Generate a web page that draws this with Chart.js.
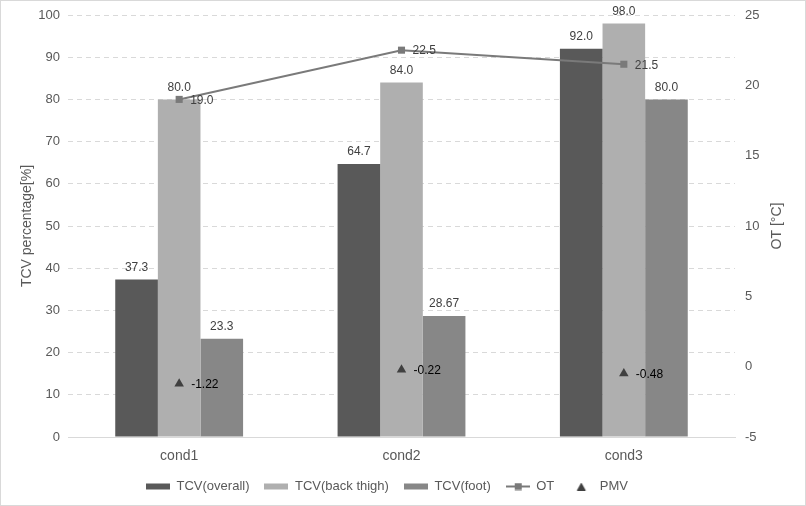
<!DOCTYPE html>
<html>
<head>
<meta charset="utf-8">
<script src="https://cdn.jsdelivr.net/npm/chart.js@4.4.1/dist/chart.umd.min.js"></script>
<style>
  body { margin: 0; background: #fff; }
  #wrap { width: 806px; height: 506px; box-sizing: border-box; border: 1px solid #d9d9d9; }
  canvas { display: block; }
</style>
</head>
<body>
<div id="wrap"><canvas id="chart" width="804" height="504"></canvas></div>
<script>
var categories = ["cond1", "cond2", "cond3"];
var tcvOverall = [37.3, 64.7, 92.0];
var tcvBackThigh = [80.0, 84.0, 98.0];
var tcvFoot = [23.3, 28.67, 80.0];
var otValues = [19.0, 22.5, 21.5];
var pmvValues = [-1.22, -0.22, -0.48];

var FONT = "'Liberation Sans', Arial, sans-serif";

function fmtBar(v) {
    var t = Math.round(v * 100);
    return (t % 10 === 0) ? v.toFixed(1) : v.toFixed(2);
}

function iconCanvas(kind, color) {
    var c = document.createElement('canvas');
    c.width = 24; c.height = 8;
    var g = c.getContext('2d');
    g.fillStyle = color; g.strokeStyle = color;
    if (kind === 'bar') {
        g.fillRect(0, 1, 24, 6);
    } else if (kind === 'line') {
        g.lineWidth = 2;
        g.beginPath(); g.moveTo(0, 4); g.lineTo(24, 4); g.stroke();
        g.fillRect(9, 0.5, 7, 7);
    } else {
        g.beginPath(); g.moveTo(12, 0); g.lineTo(16.5, 8); g.lineTo(7.5, 8); g.closePath(); g.fill();
    }
    return c;
}

var labelsPlugin = {
    id: 'valueLabels',
    afterLayout: function(chart) {
        // legend sits a bit left of centre in the original
        chart.legend.left -= 16;
        chart.legend.right -= 16;
    },
    afterDatasetsDraw: function(chart) {
        var ctx = chart.ctx;
        ctx.save();
        ctx.font = "12px " + FONT;
        ctx.textBaseline = 'middle';
        chart.data.datasets.forEach(function(ds, i) {
            var meta = chart.getDatasetMeta(i);
            meta.data.forEach(function(el, j) {
                var v = ds.data[j];
                if (ds.type === 'bar') {
                    ctx.fillStyle = '#404040';
                    ctx.textAlign = 'center';
                    ctx.fillText(fmtBar(v), el.x, el.y - 12);
                } else if (ds.label === 'OT') {
                    ctx.fillStyle = '#404040';
                    ctx.textAlign = 'left';
                    ctx.fillText(v.toFixed(1), el.x + 11, el.y + 1);
                } else {
                    ctx.fillStyle = '#000000';
                    ctx.textAlign = 'left';
                    ctx.fillText(v.toFixed(2), el.x + 12, el.y + 1);
                }
            });
        });
        ctx.restore();
    },
    afterDraw: function(chart) {
        var ctx = chart.ctx;
        var a = chart.chartArea;
        var midY = (a.top + a.bottom) / 2;
        ctx.save();
        ctx.font = "14px " + FONT;
        ctx.fillStyle = '#595959';
        ctx.textAlign = 'center';
        ctx.textBaseline = 'middle';
        ctx.translate(26, midY);
        ctx.rotate(-Math.PI / 2);
        ctx.fillText('TCV percentage[%]', 0, 0);
        ctx.restore();
        ctx.save();
        ctx.font = "14px " + FONT;
        ctx.fillStyle = '#595959';
        ctx.textAlign = 'center';
        ctx.textBaseline = 'middle';
        ctx.translate(776, midY);
        ctx.rotate(-Math.PI / 2);
        ctx.fillText('OT [°C]', 0, 0);
        ctx.restore();
    }
};

var legendIcons = [
    iconCanvas('bar', '#595959'),
    iconCanvas('bar', '#afafaf'),
    iconCanvas('bar', '#878787'),
    iconCanvas('line', '#7a7a7a'),
    iconCanvas('tri', '#404040')
];

function fixY(width) {
    return function(s) {
        s.width = width;
        s.paddingTop = 0;
        s.paddingBottom = 0;
    };
}

var ctx = document.getElementById('chart');
var chart = new Chart(ctx, {
    type: 'bar',
    data: {
        labels: categories,
        datasets: [
            { type: 'bar', label: 'TCV(overall)', data: tcvOverall, backgroundColor: '#595959', yAxisID: 'y', order: 1 },
            { type: 'bar', label: 'TCV(back thigh)', data: tcvBackThigh, backgroundColor: '#afafaf', yAxisID: 'y', order: 1 },
            { type: 'bar', label: 'TCV(foot)', data: tcvFoot, backgroundColor: '#878787', yAxisID: 'y', order: 1 },
            { type: 'line', label: 'OT', data: otValues, yAxisID: 'y1', order: 0,
              borderColor: '#7a7a7a', backgroundColor: '#7a7a7a', borderWidth: 2,
              pointStyle: 'rect', pointRadius: 5, pointBorderWidth: 0 },
            { type: 'line', label: 'PMV', data: pmvValues, yAxisID: 'y1', order: 0, showLine: false,
              borderColor: '#404040', backgroundColor: '#404040',
              pointStyle: 'triangle', pointRadius: 5.5, pointBorderWidth: 0 }
        ]
    },
    options: {
        responsive: false,
        animation: false,
        devicePixelRatio: 1,
        layout: { padding: { top: 14, left: 0, right: 0, bottom: 2 } },
        datasets: { bar: { categoryPercentage: 0.575, barPercentage: 1.0 } },
        plugins: {
            tooltip: { enabled: false },
            legend: {
                position: 'bottom',
                labels: {
                    usePointStyle: true,
                    pointStyleWidth: 24,
                    boxHeight: 8,
                    padding: 15,
                    color: '#595959',
                    font: { family: FONT, size: 13 },
                    generateLabels: function(ch) {
                        return ch.data.datasets.map(function(ds, i) {
                            return { text: ds.label, pointStyle: legendIcons[i], datasetIndex: i,
                                     fillStyle: ds.backgroundColor, strokeStyle: ds.backgroundColor,
                                     lineWidth: 0, hidden: false, fontColor: '#595959' };
                        });
                    }
                }
            }
        },
        scales: {
            x: {
                grid: { display: false, drawTicks: false },
                border: { display: true, color: '#d9d9d9' },
                ticks: { color: '#595959', padding: 11, font: { family: FONT, size: 14 } },
                afterFit: function(s) { s.height = 28; }
            },
            y: {
                position: 'left',
                min: 0, max: 100,
                ticks: { stepSize: 10, color: '#595959', padding: 8, font: { family: FONT, size: 13 } },
                grid: { color: '#d9d9d9', drawTicks: false },
                border: { display: false, dash: [5, 4] },
                afterFit: fixY(67)
            },
            y1: {
                position: 'right',
                min: -5, max: 25,
                ticks: { stepSize: 5, color: '#595959', padding: 10, font: { family: FONT, size: 13 } },
                grid: { display: false, drawTicks: false },
                border: { display: false },
                afterFit: fixY(70)
            }
        }
    },
    plugins: [labelsPlugin]
});
</script>
</body>
</html>
